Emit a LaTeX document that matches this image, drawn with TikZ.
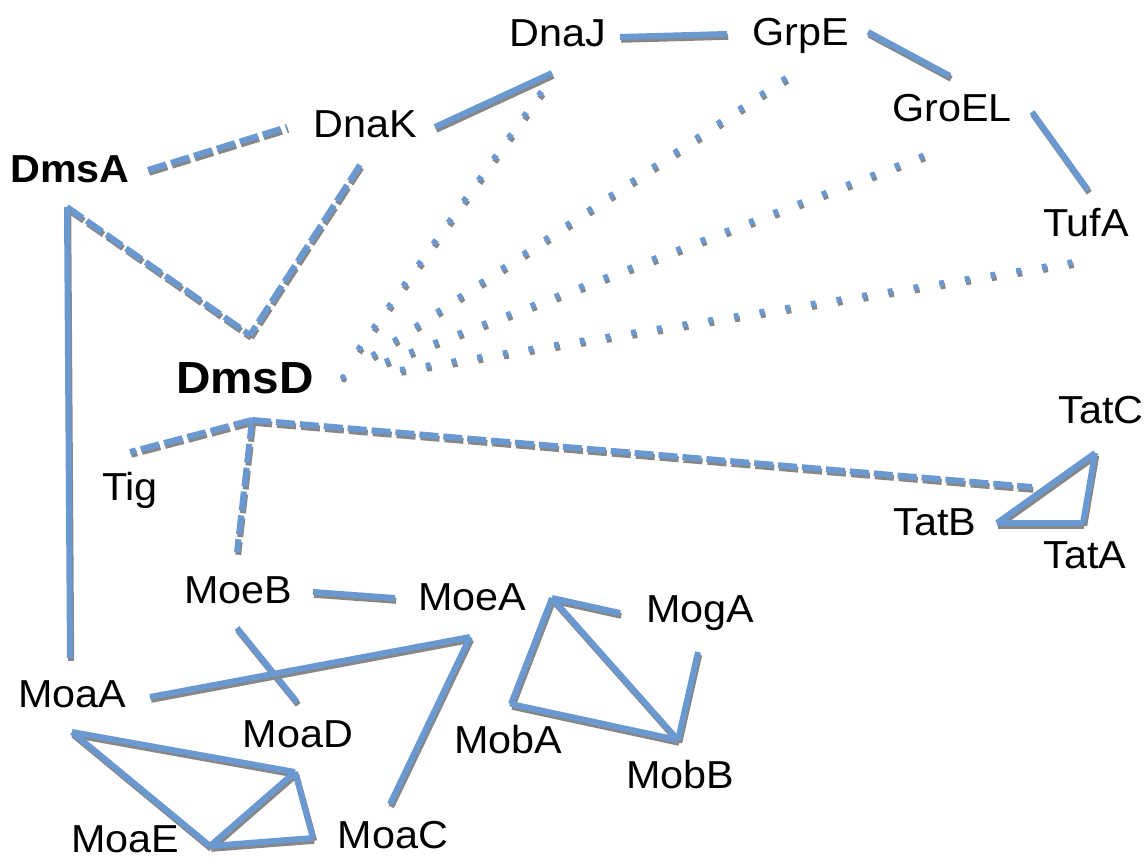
\documentclass[tikz,border=0pt]{standalone}
\usepackage{fontspec}
\setmainfont{Liberation Sans}[FakeStretch=1.06]
\definecolor{lnblue}{RGB}{106,153,210}
\definecolor{lnshadow}{RGB}{135,135,135}
\tikzset{
  lbl/.style={anchor=base, inner sep=0pt, font=\fontsize{39}{44}\selectfont},
  lblbold/.style={anchor=base, inner sep=0pt, font=\fontsize{39}{44}\selectfont\bfseries},
  solidlink/.style={line width=6pt, draw=lnblue,
    preaction={draw=lnshadow, line width=6pt, transform canvas={shift={(1.2pt,-2.8pt)}}}},
  dashlink/.style={line width=6pt, draw=lnblue, dash pattern=on 19pt off 5pt,
    preaction={draw=lnshadow, line width=6pt, dash pattern=on 19pt off 5pt, transform canvas={shift={(1.2pt,-2.8pt)}}}},
  dotlink/.style={line width=6pt, draw=lnblue, dash pattern=on 5pt off 21pt,
    preaction={draw=lnshadow, line width=6pt, dash pattern=on 5pt off 21pt, transform canvas={shift={(1.2pt,-2.8pt)}}}},
}
\begin{document}
\begin{tikzpicture}[x=1pt,y=-1pt]
\useasboundingbox (0,0) rectangle (1147,858);
% labels
\node[lbl] (DnaJ) at (558,47) {DnaJ};
\node[lbl] (GrpE) at (801,46) {GrpE};
\node[lbl] (DnaK) at (365,138) {DnaK};
\node[lbl] (GroEL) at (952,122) {GroEL};
\node[lblbold] (DmsA) at (70,183) {DmsA};
\node[lbl] (TufA) at (1086,237) {TufA};
\node[lblbold, font=\fontsize{45}{50}\selectfont\bfseries] (DmsD) at (245,393) {DmsD};
\node[lbl] (TatC) at (1101,423) {TatC};
\node[lbl] (Tig) at (130,500) {Tig};
\node[lbl] (TatB) at (935,535) {TatB};
\node[lbl] (TatA) at (1085,568) {TatA};
\node[lbl] (MoeB) at (238,603) {MoeB};
\node[lbl] (MoeA) at (472,610) {MoeA};
\node[lbl] (MogA) at (700,622) {MogA};
\node[lbl] (MoaA) at (72,707) {MoaA};
\node[lbl] (MoaD) at (298,747) {MoaD};
\node[lbl] (MobA) at (508,753) {MobA};
\node[lbl] (MobB) at (680,788) {MobB};
\node[lbl] (MoaE) at (125,852) {MoaE};
\node[lbl] (MoaC) at (393,848) {MoaC};
% connector ports
\coordinate (DmsA-e) at (148,170);
\coordinate (DmsA-s) at (67,207);
\coordinate (DnaK-w) at (287,127);
\coordinate (DnaK-e) at (435,127);
\coordinate (DnaK-s) at (360,165);
\coordinate (DnaJ-s) at (552,73);
\coordinate (DnaJ-e) at (620,37);
\coordinate (DnaJ-d) at (547,84);
\coordinate (GrpE-w) at (727,34);
\coordinate (GrpE-e) at (868,32);
\coordinate (GrpE-d) at (798,70);
\coordinate (GroEL-n) at (950,76);
\coordinate (GroEL-e) at (1032,112);
\coordinate (GroEL-d) at (933,152);
\coordinate (TufA-n) at (1088,190);
\coordinate (TufA-d) at (1074,262);
\coordinate (DmsD-n) at (250,335);
\coordinate (DmsD-s) at (252,420);
\coordinate (DmsD-e) at (343,377);
\coordinate (DmsD-d1) at (358,350);
\coordinate (DmsD-d2) at (372,356);
\coordinate (DmsD-d3) at (385,362);
\coordinate (DmsD-d4) at (400,370);
\coordinate (Tig-n) at (130,452);
\coordinate (MoeB-n) at (237,552);
\coordinate (TatB-n) at (1032,487);
\coordinate (TatB-e) at (997,523);
\coordinate (TatC-s) at (1095,453);
\coordinate (TatA-n) at (1083,523);
\coordinate (MoeB-e) at (313,592);
\coordinate (MoeA-w) at (395,598);
\coordinate (MoeB-s) at (237,628);
\coordinate (MoaD-n) at (297,702);
\coordinate (MoeA-s) at (470,637);
\coordinate (MoaA-e) at (150,697);
\coordinate (MoaC-n) at (390,804);
\coordinate (MoeA-e) at (552,598);
\coordinate (MogA-w) at (620,613);
\coordinate (MobA-n) at (511,704);
\coordinate (MobB-n) at (678,740);
\coordinate (MogA-s) at (698,652);
\coordinate (MoaA-n) at (70,658);
\coordinate (MoaA-s) at (72,732);
\coordinate (MoaD-s) at (295,772);
\coordinate (MoaE-n) at (210,846);
\coordinate (MoaC-w) at (313,838);
% dotted links from DmsD
\draw[dotlink] (DmsD-d1) -- (DnaJ-d);
\draw[dotlink] (DmsD-d2) -- (GrpE-d);
\draw[dotlink] (DmsD-d3) -- (GroEL-d);
\draw[dotlink] (DmsD-d4) -- (TufA-d);
\fill[lnshadow] ([shift={(1,2.5)}]DmsD-e) circle (3pt);
\fill[lnblue] (DmsD-e) circle (3pt);
% dashed links
\draw[dashlink] (DmsA-e) -- (DnaK-w);
\draw[dashlink] (DmsA-s) -- (DmsD-n);
\draw[dashlink] (DnaK-s) -- (DmsD-n);
\draw[dashlink] (DmsD-s) -- (Tig-n);
\draw[dashlink] (DmsD-s) -- (MoeB-n);
\draw[dashlink] (DmsD-s) -- (TatB-n);
% solid links
\draw[solidlink] (DnaK-e) -- (DnaJ-s);
\draw[solidlink] (DnaJ-e) -- (GrpE-w);
\draw[solidlink] (GrpE-e) -- (GroEL-n);
\draw[solidlink] (GroEL-e) -- (TufA-n);
\draw[solidlink] (DmsA-s) -- (MoaA-n);
\draw[solidlink] (TatB-e) -- (TatC-s);
\draw[solidlink] (TatC-s) -- (TatA-n);
\draw[solidlink] (TatB-e) -- (TatA-n);
\draw[solidlink] (MoeB-e) -- (MoeA-w);
\draw[solidlink] (MoeB-s) -- (MoaD-n);
\draw[solidlink] (MoaA-e) -- (MoeA-s);
\draw[solidlink] (MoeA-s) -- (MoaC-n);
\draw[solidlink] (MoeA-e) -- (MogA-w);
\draw[solidlink] (MoeA-e) -- (MobA-n);
\draw[solidlink] (MoeA-e) -- (MobB-n);
\draw[solidlink] (MobA-n) -- (MobB-n);
\draw[solidlink] (MobB-n) -- (MogA-s);
\draw[solidlink] (MoaA-s) -- (MoaD-s);
\draw[solidlink] (MoaA-s) -- (MoaE-n);
\draw[solidlink] (MoaE-n) -- (MoaD-s);
\draw[solidlink] (MoaD-s) -- (MoaC-w);
\draw[solidlink] (MoaE-n) -- (MoaC-w);
\end{tikzpicture}
\end{document}
